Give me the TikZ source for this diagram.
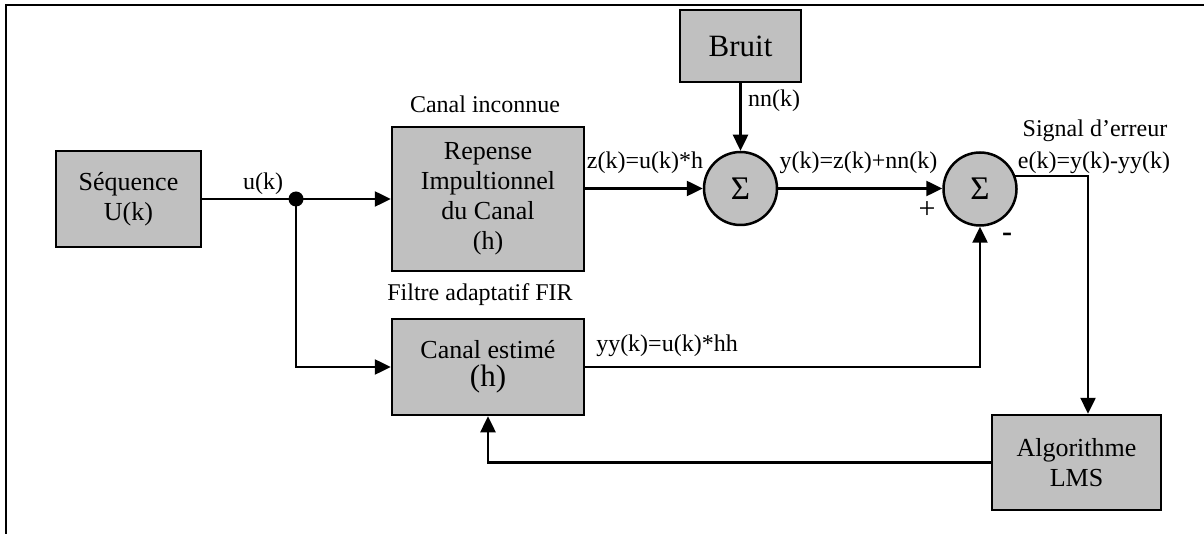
\documentclass[tikz,border=0pt]{standalone}
\usepackage{fontspec}
\setmainfont{Liberation Serif}
\usetikzlibrary{arrows.meta}

\begin{document}
\begin{tikzpicture}[x=1pt,y=-1pt,
  blockbox/.style={draw=black, line width=2.5pt, fill={rgb,255:red,192;green,192;blue,192},
    align=center, inner sep=0pt, font=\fontsize{26}{30}\selectfont},
  sumnode/.style={circle, draw=black, line width=2.5pt, fill={rgb,255:red,192;green,192;blue,192},
    minimum size=73pt, inner sep=0pt, font=\fontsize{33}{34}\selectfont},
  wire/.style={line width=2.5pt},
  flow/.style={line width=2.5pt, -{Triangle[length=16pt,width=15pt]}},
  lbl/.style={inner sep=0pt, align=center, font=\fontsize{24}{28}\selectfont}
]
\useasboundingbox (0,0) rectangle (1204,534);

% page frame
\draw[line width=2.5pt] (6,534) -- (6,5) -- (1204,5);

% blocks
\node[blockbox, minimum width=145pt, minimum height=96pt] (seq) at (128.5,199) {Séquence\\U(k)};
\node[blockbox, minimum width=192pt, minimum height=144pt] (canal) at (488,199) {Repense\\Impultionnel\\du Canal\\(h)};
\node[blockbox, minimum width=121pt, minimum height=72pt, font=\fontsize{31}{34}\selectfont] (bruit) at (740.5,46) {Bruit};
\node[sumnode] (sum1) at (740.5,188.5) {Σ};
\node[sumnode] (sum2) at (980,189) {Σ};
\node[blockbox, minimum width=192pt, minimum height=96pt] (est) at (488,367)
  {Canal estimé\\[-2pt]{\fontsize{31}{34}\selectfont (h)}};
\node[blockbox, minimum width=169pt, minimum height=95pt] (lms) at (1076.5,462.5) {Algorithme\\LMS};

% branch point
\coordinate (split) at (296,199);
\fill (split) circle (7.5pt);

% connectors
\draw[wire] (seq.east) -- (split);
\draw[flow] (split) -- (canal.west);
\draw[flow] (split) |- (est.west);
\draw[flow] (canal.east |- sum1.west) -- (sum1.west);
\draw[flow] (bruit.south) -- (sum1.north);
\draw[flow] (sum1.east) -- (sum2.west |- sum1.east);
\draw[flow] (sum2.20) -| ([xshift=11.5pt]lms.north);
\draw[flow] (est.east) -| (sum2.south);
\draw[flow] (lms.west) -| (est.south);

% labels
\node[lbl] (lu) at (263,184) {u(k)};
\node[lbl] (lcanal) at (485,104) {Canal inconnue};
\node[lbl] (lz) at (645,163) {z(k)=u(k)*h};
\node[lbl] (lnn) at (774,100.5) {nn(k)};
\node[lbl] (ly) at (858.5,163) {y(k)=z(k)+nn(k)};
\node[lbl] (lsig) at (1095,131) {Signal d’erreur};
\node[lbl] (le) at (1094,162.5) {e(k)=y(k)-yy(k)};
\node[lbl] (lfir) at (480,295) {Filtre adaptatif FIR};
\node[lbl] (lyy) at (667,346) {yy(k)=u(k)*hh};
\node[lbl, font=\fontsize{30}{30}\selectfont] (lplus) at (927,210) {+};
\node[lbl, font=\fontsize{30}{30}\selectfont\bfseries] (lminus) at (1007,237) {-};
\end{tikzpicture}
\end{document}
